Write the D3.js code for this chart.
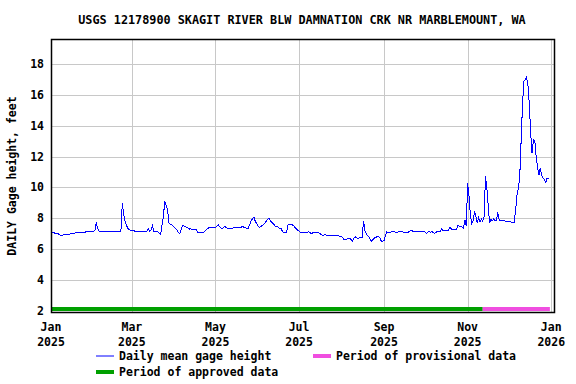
<!DOCTYPE html>
<html>
<head>
<meta charset="utf-8">
<script src="https://cdn.jsdelivr.net/npm/d3@7"></script>
<style>
  body { margin: 0; background: #fff; }
  text { font-family: "DejaVu Sans Mono", monospace; font-weight: bold; font-size: 11.5px; fill: #000; }
</style>
</head>
<body>
<div id="chart"></div>
<script>
const width = 576, height = 384;

const title = "USGS 12178900 SKAGIT RIVER BLW DAMNATION CRK NR MARBLEMOUNT, WA";
const yLabel = "DAILY Gage height, feet";
const startDate = "2025-01-01";

// daily mean gage height, feet
const jan = [7.08, 7.03, 7.06, 7.0, 6.99, 7.01, 6.92, 6.89, 6.88, 6.9, 6.94, 6.95, 6.96, 6.96, 6.97, 6.98,
             6.99, 7.02, 7.04, 7.05, 7.06, 7.05, 7.07, 7.08, 7.07, 7.09, 7.12, 7.13, 7.13, 7.13, 7.14];
const feb = [7.14, 7.18, 7.73, 7.33, 7.15, 7.13, 7.13, 7.13, 7.13, 7.13, 7.13, 7.13, 7.13, 7.13,
             7.13, 7.13, 7.13, 7.13, 7.13, 7.13, 7.15, 8.96, 8.3, 7.8, 7.55, 7.35, 7.25, 7.2];
const mar = [7.18, 7.17, 7.16, 7.16, 7.15, 7.15, 7.14, 7.13, 7.16, 7.15, 7.12, 7.15, 7.33, 7.13, 7.22, 7.49,
             7.14, 7.12, 7.12, 7.1, 7.0, 6.96, 7.55, 8.1, 9.09, 8.8, 8.6, 7.7, 7.6, 7.56, 7.48];
const apr = [7.4, 7.33, 7.2, 7.05, 6.96, 7.3, 7.51, 7.5, 7.45, 7.4, 7.35, 7.29, 7.3, 7.27, 7.27,
             7.28, 7.27, 7.07, 7.06, 7.05, 7.04, 7.04, 7.12, 7.22, 7.3, 7.36, 7.38, 7.37, 7.38, 7.38];
const may = [7.38, 7.48, 7.58, 7.45, 7.35, 7.33, 7.4, 7.44, 7.38, 7.33, 7.29, 7.3, 7.33, 7.36, 7.38, 7.37,
             7.38, 7.4, 7.38, 7.42, 7.44, 7.4, 7.36, 7.33, 7.33, 7.6, 7.8, 7.95, 8.07, 7.8, 7.65];
const jun = [7.5, 7.4, 7.45, 7.52, 7.56, 7.65, 7.8, 7.92, 8.0, 7.85, 7.72, 7.65, 7.55, 7.44, 7.46,
             7.38, 7.33, 7.3, 7.1, 7.04, 7.05, 7.1, 7.58, 7.6, 7.58, 7.57, 7.5, 7.4, 7.3, 7.22];
const jul = [7.15, 7.08, 7.04, 7.04, 7.06, 7.1, 7.08, 7.11, 7.05, 7.0, 7.04, 7.08, 7.06, 7.09, 7.05, 7.0,
             6.95, 6.9, 6.89, 6.92, 6.9, 6.89, 6.89, 6.9, 6.88, 6.87, 6.89, 6.86, 6.85, 6.84, 6.82];
const aug = [6.8, 6.7, 6.6, 6.6, 6.65, 6.68, 6.67, 6.6, 6.51, 6.7, 6.78, 6.72, 6.67, 6.73, 6.71, 6.72,
             7.82, 7.2, 7.0, 6.85, 6.78, 6.6, 6.51, 6.62, 6.71, 6.75, 6.8, 6.82, 6.7, 6.51, 6.51];
const sep = [6.52, 6.85, 7.11, 7.05, 7.04, 7.1, 7.15, 7.16, 7.1, 7.04, 7.08, 7.12, 7.14, 7.16, 7.1,
             7.07, 7.05, 7.04, 7.1, 7.18, 7.22, 7.15, 7.12, 7.1, 7.1, 7.14, 7.16, 7.16, 7.12, 7.1];
const oct = [7.1, 7.0, 7.1, 7.13, 7.08, 7.12, 7.05, 7.0, 7.08, 7.13, 7.1, 7.15, 7.29, 7.2, 7.18, 7.17,
             7.18, 7.2, 7.4, 7.3, 7.25, 7.24, 7.25, 7.3, 7.52, 7.48, 7.46, 7.42, 7.35, 7.9, 7.5];
const nov = [10.27, 9.4, 8.2, 7.67, 7.83, 8.43, 8.1, 7.67, 8.04, 7.74, 7.95, 7.8, 8.1, 10.7, 9.95,
             8.8, 7.67, 7.9, 7.83, 7.94, 7.8, 7.85, 8.37, 7.85, 7.83, 7.84, 7.83, 7.82, 7.8, 7.78];
const dec = [7.76, 7.75, 7.74, 7.74, 7.74, 8.54, 9.5, 9.95, 10.7, 13.0, 15.3, 16.9, 17.0, 17.16, 16.6,
             15.4, 13.5, 12.2, 13.1, 13.0, 12.0, 11.3, 10.8, 11.25, 10.8, 10.6, 10.5, 10.3, 10.6, 10.6];

const yTicks = [2, 4, 6, 8, 10, 12, 14, 16, 18];
const xTickDates = ["2025-01-01", "2025-03-01", "2025-05-01", "2025-07-01", "2025-09-01", "2025-11-01", "2026-01-01"];
const xTickLabels = [["Jan", "2025"], ["Mar", "2025"], ["May", "2025"], ["Jul", "2025"], ["Sep", "2025"], ["Nov", "2025"], ["Jan", "2026"]];
const xDomain = ["2025-01-01", "2026-01-03"];
const yDomain = [1.9, 19.6];

const approvedPeriod = ["2025-01-01", "2025-11-12"];
const provisionalPeriod = ["2025-11-12", "2025-12-31"];

const legendItems = [
  {label: "Daily mean gage height", color: "#0000ff", w: 1},
  {label: "Period of provisional data", color: "#f04ee0", w: 4},
  {label: "Period of approved data", color: "#00a000", w: 4}
];

const parse = d3.utcParse("%Y-%m-%d");
const start = parse(startDate);
const values = [].concat(jan, feb, mar, apr, may, jun, jul, aug, sep, oct, nov, dec);
const data = values.map((v, i) => ({date: d3.utcDay.offset(start, i), value: v}));

const svg = d3.select("#chart")
  .append("svg")
  .attr("width", width)
  .attr("height", height);

const x = d3.scaleUtc().domain(xDomain.map(parse)).range([51, 554]);
const y = d3.scaleLinear().domain(yDomain).range([312, 39.5]);

// grid
svg.append("g")
  .selectAll("line")
  .data(yTicks.slice(1))
  .enter().append("line")
    .attr("x1", 51).attr("x2", 554)
    .attr("y1", d => Math.round(y(d)) + 0.5).attr("y2", d => Math.round(y(d)) + 0.5)
    .attr("stroke", "#c8c8c8");

svg.append("g")
  .selectAll("line")
  .data(xTickDates.slice(1))
  .enter().append("line")
    .attr("x1", d => Math.round(x(parse(d))) + 0.5).attr("x2", d => Math.round(x(parse(d))) + 0.5)
    .attr("y1", 39.5).attr("y2", 312)
    .attr("stroke", "#c8c8c8");

// data-quality periods
const barY = y(2) - 1.5;
[[approvedPeriod, legendItems[2].color], [provisionalPeriod, legendItems[1].color]].forEach(p => {
  svg.append("line")
    .attr("x1", x(parse(p[0][0]))).attr("x2", x(parse(p[0][1])))
    .attr("y1", barY).attr("y2", barY)
    .attr("stroke", p[1])
    .attr("stroke-width", 4);
});

// series
const line = d3.line()
  .x(d => x(d.date))
  .y(d => y(d.value));

svg.append("path")
  .datum(data)
  .attr("d", line)
  .attr("fill", "none")
  .attr("stroke", "#0000ff")
  .attr("stroke-width", 1)
  .attr("shape-rendering", "crispEdges");

// frame
svg.append("rect")
  .attr("x", 51.5).attr("y", 39.5)
  .attr("width", 503).attr("height", 273)
  .attr("fill", "none")
  .attr("stroke", "#000")
  .attr("stroke-width", 1.5);

// y tick labels
svg.append("g")
  .selectAll("text")
  .data(yTicks)
  .enter().append("text")
    .attr("x", 44)
    .attr("y", d => y(d))
    .attr("dy", "0.36em")
    .attr("text-anchor", "end")
    .text(d => d);

// x tick labels
const xt = svg.append("g")
  .selectAll("text")
  .data(xTickDates)
  .enter().append("text")
    .attr("text-anchor", "middle");
xt.append("tspan")
  .attr("x", d => x(parse(d))).attr("y", 331)
  .text((d, i) => xTickLabels[i][0]);
xt.append("tspan")
  .attr("x", d => x(parse(d))).attr("y", 346)
  .text((d, i) => xTickLabels[i][1]);

// titles
svg.append("text")
  .attr("x", 302).attr("y", 24)
  .attr("text-anchor", "middle")
  .style("font-size", "11.8px")
  .text(title);

svg.append("text")
  .attr("transform", "translate(16,176) rotate(-90)")
  .attr("text-anchor", "middle")
  .text(yLabel);

// legend
const legendPos = [[96, 356], [313, 356], [96, 372]];
legendItems.forEach((d, i) => {
  const [lx, ly] = legendPos[i];
  svg.append("line")
    .attr("x1", lx).attr("x2", lx + 18)
    .attr("y1", ly).attr("y2", ly)
    .attr("stroke", d.color)
    .attr("stroke-width", d.w);
  svg.append("text")
    .attr("x", lx + 23).attr("y", ly + 4)
    .text(d.label);
});
</script>
</body>
</html>
